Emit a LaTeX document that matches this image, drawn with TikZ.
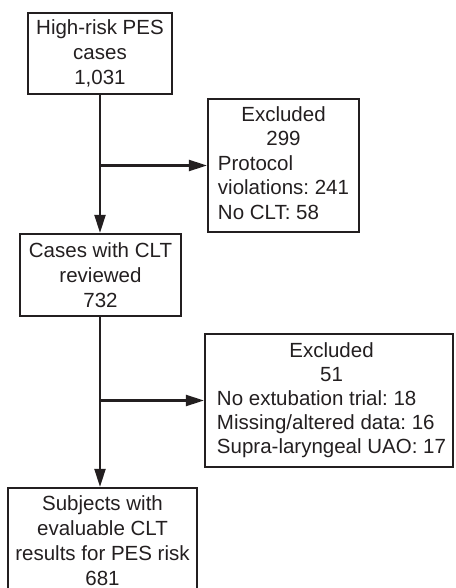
\documentclass[tikz,border=0pt]{standalone}
\usepackage{fontspec}
\setmainfont{Liberation Sans}
\usetikzlibrary{arrows.meta}
\definecolor{ink}{HTML}{231F20}
\frenchspacing
\newcommand{\ctr}[1]{\multicolumn{1}{@{}c@{}}{#1}}
\begin{document}
\begin{tikzpicture}[x=1pt,y=-1pt,
  box/.style={draw=ink, line width=2.2pt, inner sep=0pt, align=center, text=ink,
    font=\fontsize{20.5}{25}\selectfont\frenchspacing},
  conn/.style={draw=ink, line width=2.2pt, -{Triangle[length=18pt,width=11pt]}}]
\useasboundingbox (0,0) rectangle (455,588);
\node[box, minimum width=144pt, minimum height=81pt] (b1) at (100,53.5)
  {High-risk PES\\cases\\1,031};
\node[box, minimum width=151pt, minimum height=133pt] (b2) at (283.5,165.5)
  {\fontsize{20.5}{24.5}\selectfont\begin{tabular}{@{}l@{}}\ctr{Excluded}\\ \ctr{299}\\ Protocol\\ violations: 241\\ No CLT: 58\end{tabular}};
\node[box, minimum width=161pt, minimum height=82pt] (b3) at (100.5,275)
  {Cases with CLT\\reviewed\\732};
\node[box, minimum width=248pt, minimum height=133pt] (b4) at (329,400.5)
  {\hspace*{5pt}\fontsize{20.5}{24}\selectfont\begin{tabular}{@{}l@{}}\ctr{Excluded}\\ \ctr{51}\\ No extubation trial: 18\\ Missing/altered data: 16\\ Supra-laryngeal UAO: 17\end{tabular}};
\node[box, minimum width=189pt, minimum height=106pt] (b5) at (102.5,541)
  {\fontsize{20.5}{24.5}\selectfont Subjects with\\evaluable CLT\\results for PES risk\\681};
\coordinate (j1) at (b1.south |- b2.west);
\coordinate (j2) at (b1.south |- b4.west);
\draw[conn] (b1.south) -- (b1.south |- b3.north);
\draw[conn] (j1) -- (b2.west);
\draw[conn] ([xshift=-0.5pt]b3.south) -- ([xshift=-0.5pt]b3.south |- b5.north);
\draw[conn] ([xshift=-0.5pt]b3.south |- j2) -- (b4.west);
\end{tikzpicture}
\end{document}
